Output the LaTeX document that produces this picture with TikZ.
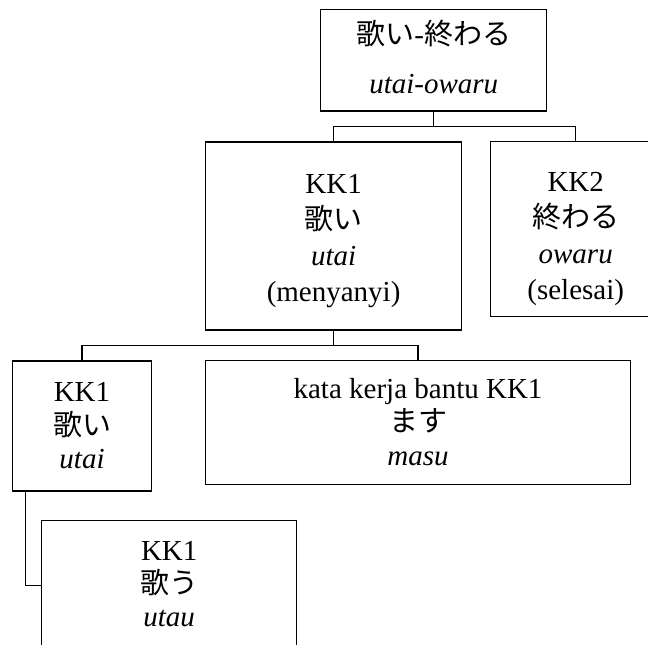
\documentclass[tikz,border=0pt]{standalone}
\usepackage{fontspec}
\setmainfont{Liberation Serif}
\newfontfamily\cjk{Noto Sans CJK JP}
\begin{document}
\begin{tikzpicture}[x=1pt,y=-1pt,
  box/.style={draw, line width=1.5pt, inner sep=0pt, align=center, text depth=0pt},
  wide/.style={font=\fontsize{29}{36}\selectfont},
  tight/.style={font=\fontsize{29}{33.3}\selectfont},
  conn/.style={line width=1.5pt}]
\useasboundingbox (0,0) rectangle (648,645);
\node[box, minimum width=226pt, minimum height=101.7pt, text height=66.2pt,
      font=\fontsize{29}{49}\selectfont] (top) at (433.7,60.2)
  {{\cjk 歌い}-{\cjk 終わる}\\\textit{utai-owaru}};
\node[box, wide, minimum width=255.8pt, minimum height=188.3pt, text height=130.8pt] (kk1a) at (333.6,235.9)
  {KK1\\{\cjk 歌い}\\\textit{utai}\\(menyanyi)};
\node[box, wide, minimum width=170pt, minimum height=175pt, text height=139.6pt] (kk2) at (575.7,229.2)
  {KK2\\{\cjk 終わる}\\\textit{owaru}\\(selesai)};
\node[box, tight, minimum width=139.4pt, minimum height=130pt, text height=84.6pt] (kk1b) at (82,426)
  {KK1\\{\cjk 歌い}\\\textit{utai}};
\node[box, tight, minimum width=425.4pt, minimum height=123.8pt, text height=85.2pt] (aux) at (418,422.4)
  {kata kerja bantu KK1\\{\cjk ます}\\\textit{masu}};
\node[box, tight, minimum width=255pt, minimum height=130pt, text height=82pt] (bottom) at (169.2,585.7)
  {KK1\\{\cjk 歌う}\\\textit{utau}};
\coordinate (bar1) at (0,126.7);
\coordinate (bar2) at (0,345.5);
\coordinate (hook) at ([xshift=13.7pt]kk1b.south west);
\draw[conn] (top.south) -- (top.south |- bar1) -| (kk1a.north);
\draw[conn] (top.south |- bar1) -| (kk2.north);
\draw[conn] (kk1a.south) -- (kk1a.south |- bar2) -| (kk1b.north);
\draw[conn] (kk1a.south |- bar2) -| (aux.north);
\draw[conn] (hook) |- (bottom.west);
\end{tikzpicture}
\end{document}
